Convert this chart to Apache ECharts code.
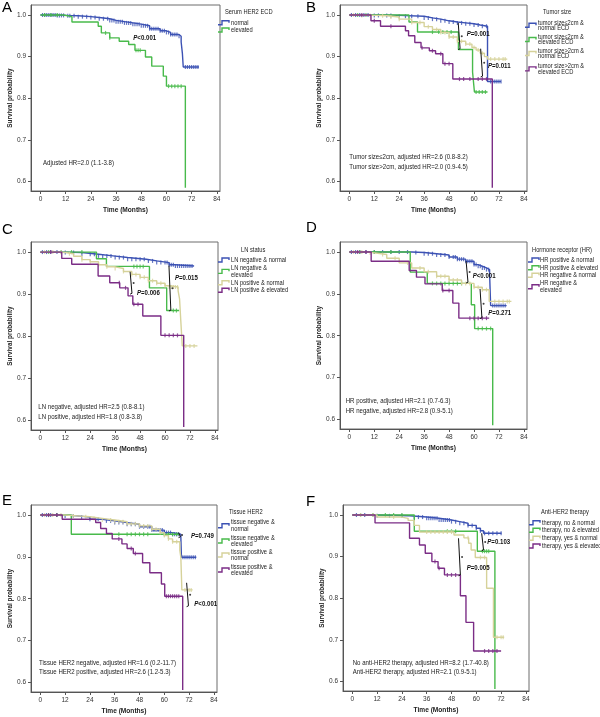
<!DOCTYPE html>
<html>
<head>
<meta charset="utf-8">
<title>Kaplan-Meier curves</title>
<script src="https://cdn.jsdelivr.net/npm/echarts@6/dist/echarts.min.js"></script>
<style>html,body{margin:0;padding:0;background:#fff}</style>
</head>
<body>
<div id="main" style="width:600px;height:717px;"></div>
<script>
// axis ticks
var X_TICKS = [0, 12, 24, 36, 48, 60, 72, 84];
var Y_TICKS = [0.6, 0.7, 0.8, 0.9, 1.0];

// ---- A: serum HER2 ECD
var aNormal = [[0,1],[8,0.999],[12.5,0.998],[18,0.996],[24,0.994],[28,0.991],[33,0.987],[36,0.984],[40,0.981],[44,0.978],[48,0.974],[52,0.967],[57,0.962],[60,0.958],[62,0.953],[66,0.949],[67,0.935],[67.6,0.907],[68,0.875],[75.5,0.875]];
var aElevated = [[0,1],[11,0.996],[15,0.983],[27.5,0.973],[29,0.957],[33,0.945],[37.5,0.937],[42,0.929],[45,0.915],[50,0.899],[53,0.877],[58.5,0.853],[60,0.829],[69,0.585]];
var aNormalCens = [1,2,3,4,5,6,7,8,9,10,11,13,14,16,18,20,22,24,26,28,30,32,33,34,35,36,37,38,39,40,41,42,43,44,45,46,47,48,49,50,51,52,53,54,55,56,57,58,59,60,61,62,63,64,65,66,69,70,71,72,73,74,75];
var aElevatedCens = [2,5,8,31,33,45.5,46.5,47.5,61,62.5,64,65.5,67];

// ---- B: tumor size
var bSmallNormal = [[0,1],[12,0.999],[24,0.997],[36,0.993],[40,0.990],[44,0.986],[48,0.983],[52,0.981],[56,0.979],[60,0.976],[63,0.973],[66.5,0.840],[73,0.840]];
var bSmallElevated = [[0,1],[28.7,0.983],[32.8,0.959],[52.5,0.917],[59.3,0.863],[60.2,0.815],[66.5,0.815]];
var bLargeNormal = [[0,1],[6,0.999],[12,0.998],[18,0.995],[24,0.990],[30,0.982],[36,0.972],[40,0.965],[44,0.958],[48,0.947],[52,0.937],[56,0.930],[59,0.922],[61,0.916],[63,0.908],[65,0.900],[66.5,0.894],[76,0.894]];
var bLargeElevated = [[0,1],[10.4,0.986],[15,0.973],[27,0.962],[28.5,0.950],[31.5,0.934],[34.5,0.921],[38.5,0.914],[41.5,0.907],[45,0.883],[49.8,0.846],[68.8,0.585]];
var bSmallNormalCens = [1,3,5,7,9,12,14,18,20,24,27,30,33,36,38,40,42,44,46,48,50,52,54,56,58,60,62,64,66,68,69,70,71,72,73];
var bSmallElevatedCens = [4,8,40,43,45,47,49,61,62.5,64,65.5];
var bLargeNormalCens = [2,6,10,16,20,24,30,34,38,42,44,46,48,50,52,54,56,58,60,62,64,68,70,72,74,75];
var bLargeElevatedCens = [6,12,20,35,40,44,46,48,53,55,58,62,64,66];

// ---- C: LN status
var cNegNormal = [[0,1],[12,0.999],[20,0.995],[28,0.991],[35,0.987],[42,0.983],[51,0.979],[56,0.975],[62,0.970],[65,0.967],[74,0.967]];
var cNegElevated = [[0,1],[27,0.984],[31.8,0.966],[52.5,0.915],[60.8,0.861],[66.8,0.861]];
var cPosNormal = [[0,1],[8,0.999],[12,0.996],[16,0.990],[20,0.982],[24,0.977],[28,0.970],[32,0.965],[36,0.961],[40,0.954],[44,0.947],[48,0.940],[52,0.932],[56,0.926],[60,0.920],[62,0.917],[66.3,0.908],[67,0.889],[67.6,0.836],[68.3,0.777],[75.6,0.777]];
var cPosElevated = [[0,1],[10.3,0.985],[15.1,0.971],[27.8,0.943],[33.4,0.927],[38.2,0.915],[42.2,0.896],[44.5,0.876],[49.3,0.848],[58,0.802],[69,0.584]];
var cNegNormalCens = [1,3,5,8,12,16,20,24,26,28,30,32,34,36,38,40,42,44,46,48,50,52,54,56,58,60,61,62,63,64,65,66,67,68,69,70,71,72,73];
var cNegElevatedCens = [4,10,15,20,45,46.5,48,49.5,64,65.5];
var cPosNormalCens = [2,6,10,14,20,24,28,32,36,40,44,46,48,50,52,54,56,58,60,62,63,64,65,66,70,72,74];
var cPosElevatedCens = [5,38,41,45,47,60,62,64,66];

// ---- D: hormone receptor
var dPosNormal = [[0,1],[30,0.999],[36,0.996],[42,0.993],[48,0.988],[52,0.983],[56,0.978],[60,0.970],[62,0.966],[64,0.962],[66,0.958],[67.5,0.948],[68,0.872],[75.7,0.872]];
var dPosElevated = [[0,1],[29.3,0.952],[37.5,0.925],[58.7,0.874],[60.3,0.817],[69,0.586]];
var dNegNormal = [[0,1],[8,0.998],[12,0.994],[18,0.985],[24,0.974],[30,0.962],[36,0.953],[42,0.942],[48,0.933],[54,0.925],[60,0.916],[64,0.910],[67.3,0.882],[78,0.882]];
var dNegElevated = [[0,1],[10.5,0.978],[28.8,0.956],[32.3,0.940],[36.4,0.924],[44.7,0.908],[49.8,0.878],[52.7,0.842],[67.3,0.842]];
var dPosNormalCens = [1,3,5,8,12,16,20,24,28,32,36,38,40,42,44,46,48,50,51,52,53,54,55,56,57,58,59,60,61,62,63,64,65,66,67,69,70,71,72,73,74,75];
var dPosElevatedCens = [5,12,20,40,42,44,46,48,50,52,54,62,64,66,68];
var dNegNormalCens = [2,6,10,16,22,28,34,38,42,44,46,48,50,52,54,56,58,60,62,64,66,70,72,74,76,77];
var dNegElevatedCens = [4,8,45,48,58,60,62,64,66];

// ---- E: tissue HER2
var eNegNormal = [[0,1],[12,0.998],[18,0.995],[24,0.990],[30,0.986],[36,0.982],[42,0.978],[48,0.972],[54,0.964],[60,0.958],[64,0.954],[68,0.948],[68.3,0.899],[75.5,0.899]];
var eNegElevated = [[0,1],[15,0.954],[67.3,0.954]];
var ePosNormal = [[0,1],[12,0.998],[18,0.996],[24,0.992],[30,0.988],[36,0.984],[42,0.979],[48,0.974],[54,0.966],[58,0.958],[60,0.951],[62,0.943],[64,0.936],[67.5,0.916],[68,0.899],[68.5,0.821],[73.7,0.821]];
var ePosElevated = [[0,1],[10.6,0.990],[26.8,0.982],[29.2,0.968],[32,0.956],[34.8,0.943],[39.5,0.931],[42,0.920],[45,0.908],[49.5,0.886],[53,0.862],[58.6,0.835],[60.2,0.806],[68.9,0.582]];
var eNegNormalCens = [1,3,5,8,12,16,20,24,28,32,34,36,38,40,42,44,46,48,50,52,53,54,55,56,57,58,59,60,61,62,63,64,65,66,67,69,70,71,72,73,74,75];
var eNegElevatedCens = [4,8,38,42,44,46,48,50,52,60,62,64,66];
var ePosNormalCens = [2,6,10,16,22,26,30,34,36,38,40,42,44,46,48,50,52,54,56,58,60,62,64,66,70,72,73];
var ePosElevatedCens = [4,8,38,44,46,61,62,63,64,65,66,67];

// ---- F: anti-HER2 therapy
var fNoNormal = [[0,1],[12,0.998],[27.7,0.995],[36,0.992],[42,0.988],[48,0.984],[52,0.980],[56,0.975],[60,0.968],[62,0.962],[63.5,0.956],[72.2,0.956]];
var fNoElevated = [[0,1],[30,0.961],[60.5,0.913],[69,0.582]];
var fYesNormal = [[0,1],[12,0.995],[24,0.992],[27,0.987],[30,0.975],[32.5,0.959],[49.2,0.952],[54,0.945],[56.3,0.932],[57.5,0.916],[59.5,0.898],[65,0.824],[68.3,0.706],[73.5,0.706]];
var fYesElevated = [[0,1],[11,0.981],[27.7,0.944],[32.5,0.928],[35.3,0.908],[38.5,0.888],[41.5,0.872],[44.6,0.856],[52.3,0.806],[55,0.742],[58.7,0.673],[72,0.673]];
var fNoNormalCens = [2,6,12,18,24,30,32,34,36,37,38,39,40,41,42,43,44,45,46,47,48,50,52,54,56,58,60,62,64,66,68,70,72];
var fNoElevatedCens = [4,10,16,20,24,46,48,50,63,64,65,66];
var fYesNormalCens = [4,10,20,36,38,40,42,44,46,48,56,62,64,70,72,73];
var fYesElevatedCens = [40,42,46,48,50,64,66,68,70];

// brackets: [x, top, bottom]
var bBrackets = [[53.3,0.981,0.917],[64.1,0.919,0.851]];
var cBrackets = [[62.8,0.968,0.860],[44.1,0.953,0.900]];
var dBrackets = [[57.1,0.978,0.926],[63.8,0.912,0.841]];
var eBrackets = [[67.8,0.958,0.946],[71.7,0.838,0.781]];
var fBrackets = [[63.5,0.956,0.914],[52.3,0.944,0.854]];

var BLUE = '#3c52b4', GREEN = '#48ba4b', BEIGE = '#d6d29a', PURPLE = '#7b2d86';
var COLORS = [BLUE, GREEN, BEIGE, PURPLE];
var FONT = '"Liberation Sans", Arial, sans-serif';
var SQUEEZE = 0.87;  // the original uses a narrow face
var LEGEND_SQUEEZE = 0.82;

var panels = [
  {letter: 'A', lx: 2, ly: 0, grid: [31, 5, 189, 186],
   curves: [[aNormal, aNormalCens], [aElevated, aElevatedCens]], colors: [BLUE, GREEN], brackets: [],
   notes: [[43, 163.3, 'Adjusted HR=2.0 (1.1-3.8)']],
   pvals: [[133.3, 38.3, '<0.001']],
   legend: {title: 'Serum HER2 ECD', tx: 225, ty: 12, ix: 218, textX: 231,
            items: [[[22.7], 'normal'], [[30], 'elevated']]}},
  {letter: 'B', lx: 306, ly: 0, grid: [340, 5, 187, 186],
   curves: [[bSmallNormal, bSmallNormalCens], [bSmallElevated, bSmallElevatedCens], [bLargeNormal, bLargeNormalCens], [bLargeElevated, bLargeElevatedCens]],
   colors: COLORS, brackets: bBrackets,
   notes: [[349.3, 156.7, 'Tumor size\u22642cm, adjusted HR=2.6 (0.8-8.2)'], [349.3, 167.3, 'Tumor size>2cm, adjusted HR=2.0 (0.9-4.5)']],
   pvals: [[466.7, 34, '=0.001'], [488, 65.7, '=0.011']],
   legend: {title: 'Tumor size', tx: 543, ty: 12.3, ix: 525, textX: 538,
            items: [[[22.7, 27.7], 'tumor size\u22642cm &', 'normal ECD'], [[36.7, 42.3], 'tumor size\u22642cm &', 'elevated ECD'],
                    [[51, 56], 'tumor size>2cm &', 'normal ECD'], [[66, 71.7], 'tumor size>2cm &', 'elevated ECD']]}},
  {letter: 'C', lx: 2, ly: 222, grid: [31, 242, 187, 188],
   curves: [[cNegNormal, cNegNormalCens], [cNegElevated, cNegElevatedCens], [cPosNormal, cPosNormalCens], [cPosElevated, cPosElevatedCens]],
   colors: COLORS, brackets: cBrackets,
   notes: [[38.3, 407.3, 'LN negative, adjusted HR=2.5 (0.8-8.1)'], [38.3, 417.3, 'LN positive, adjusted HR=1.8 (0.8-3.8)']],
   pvals: [[175, 278, '=0.015'], [137, 292.7, '=0.006']],
   legend: {title: 'LN status', tx: 241, ty: 250, ix: 218, textX: 231,
            items: [[[260], 'LN negative & normal'], [[267.7, 275], 'LN negative &', 'elevated'],
                    [[282.7], 'LN positive & normal'], [[290.3], 'LN positive & elevated']]}},
  {letter: 'D', lx: 306, ly: 220, grid: [340, 242, 187, 187],
   curves: [[dPosNormal, dPosNormalCens], [dPosElevated, dPosElevatedCens], [dNegNormal, dNegNormalCens], [dNegElevated, dNegElevatedCens]],
   colors: COLORS, brackets: dBrackets,
   notes: [[345.7, 400.7, 'HR positive, adjusted HR=2.1 (0.7-6.3)'], [345.7, 410.7, 'HR negative, adjusted HR=2.8 (0.9-5.1)']],
   pvals: [[472.7, 275.7, '<0.001'], [488.3, 313.3, '=0.271']],
   legend: {title: 'Hormone receptor (HR)', tx: 532, ty: 250, ix: 528, textX: 540,
            items: [[[260], 'HR positive & normal'], [[267.7], 'HR positive & elevated'],
                    [[275.3], 'HR negative & normal'], [[283.3, 290.3], 'HR negative &', 'elevated']]}},
  {letter: 'E', lx: 2, ly: 493, grid: [31, 505, 186, 187],
   curves: [[eNegNormal, eNegNormalCens], [eNegElevated, eNegElevatedCens], [ePosNormal, ePosNormalCens], [ePosElevated, ePosElevatedCens]],
   colors: COLORS, brackets: eBrackets,
   notes: [[39, 663.3, 'Tissue HER2 negative, adjusted HR=1.6 (0.2-11.7)'], [39, 672.3, 'Tissue HER2 positive, adjusted HR=2.6 (1.2-5.3)']],
   pvals: [[191, 535.7, '=0.749'], [194.3, 604, '<0.001']],
   legend: {title: 'Tissue HER2', tx: 229, ty: 512.3, ix: 218, textX: 231,
            items: [[[522.3, 529.3], 'tissue negative &', 'normal'], [[537.7, 544.3], 'tissue negative &', 'elevated'],
                    [[551.7, 558.3], 'tissue positive &', 'normal'], [[566.7, 573.3], 'tissue positive &', 'elevated']]}},
  {letter: 'F', lx: 306, ly: 494, grid: [343, 505, 186, 186],
   curves: [[fNoNormal, fNoNormalCens], [fNoElevated, fNoElevatedCens], [fYesNormal, fYesNormalCens], [fYesElevated, fYesElevatedCens]],
   colors: COLORS, brackets: fBrackets,
   notes: [[352.7, 662.7, 'No anti-HER2 therapy, adjusted HR=8.2 (1.7-40.8)'], [352.7, 671.7, 'Anti-HER2 therapy, adjusted HR=2.1 (0.9-5.1)']],
   pvals: [[487.3, 541.7, '=0.103'], [466.7, 568.3, '=0.005']],
   legend: {title: 'Anti-HER2 therapy', tx: 541, ty: 512.3, ix: 529, textX: 542,
            items: [[[522.7], 'therapy, no & normal'], [[530.3], 'therapy, no & elevated'],
                    [[538.3], 'therapy, yes & normal'], [[546], 'therapy, yes & elevated']]}}
];

// survival value at time t from a step curve
function valueAt(curve, t) {
  var s = curve[0][1];
  for (var i = 0; i < curve.length; i++) {
    if (curve[i][0] <= t) s = curve[i][1]; else break;
  }
  return s;
}

function txt(x, y, text, size, opts) {
  opts = opts || {};
  return {
    type: 'text', z: 100, silent: true,
    x: x, y: y, scaleX: opts.scale || SQUEEZE, scaleY: 1,
    style: {
      x: 0, y: 0, text: text,
      font: (opts.weight || 'normal') + ' ' + size + 'px ' + FONT,
      fill: opts.color || '#222',
      textAlign: 'left', align: 'left',
      textVerticalAlign: opts.valign || 'middle', verticalAlign: opts.valign || 'middle'
    }
  };
}

var grids = [], xAxes = [], yAxes = [], series = [], graphics = [];

panels.forEach(function (p, i) {
  grids.push({left: p.grid[0], top: p.grid[1], width: p.grid[2], height: p.grid[3],
              show: true, borderColor: '#6d6d6d', borderWidth: 1, backgroundColor: '#fff'});
  xAxes.push({
    gridIndex: i, type: 'value', min: -4.5, max: 85.5,
    name: 'Time (Months)', nameLocation: 'middle', nameGap: 16,
    nameTextStyle: {fontWeight: 'bold', fontSize: 6.6, fontFamily: FONT, color: '#222'},
    axisLine: {show: true, onZero: false, lineStyle: {color: '#555', width: 1}},
    axisTick: {show: true, length: 3, customValues: X_TICKS, lineStyle: {color: '#555'}},
    axisLabel: {customValues: X_TICKS, fontSize: 6.5, fontFamily: FONT, color: '#333', margin: 5},
    splitLine: {show: false}
  });
  yAxes.push({
    gridIndex: i, type: 'value', min: 0.577, max: 1.024,
    name: 'Survival probability', nameLocation: 'middle', nameGap: 15, nameRotate: 90,
    nameTextStyle: {fontWeight: 'bold', fontSize: 6.4, fontFamily: FONT, color: '#222'},
    axisLine: {show: true, onZero: false, lineStyle: {color: '#555', width: 1}},
    axisTick: {show: true, length: 3, customValues: Y_TICKS, lineStyle: {color: '#555'}},
    axisLabel: {customValues: Y_TICKS, fontSize: 6.5, fontFamily: FONT, color: '#333', margin: 5,
                formatter: function (v) { return v.toFixed(1); }},
    splitLine: {show: false}
  });

  p.curves.forEach(function (c, k) {
    var col = p.colors[k];
    series.push({
      type: 'line', xAxisIndex: i, yAxisIndex: i, step: 'end', data: c[0],
      showSymbol: false, symbol: 'none', silent: true, z: 2 + k,
      lineStyle: {color: col, width: 1.4}
    });
    series.push({
      type: 'scatter', xAxisIndex: i, yAxisIndex: i, silent: true, z: 2 + k,
      data: c[1].map(function (t) { return [t, valueAt(c[0], t)]; }),
      symbol: 'rect', symbolSize: [1.2, 4],
      itemStyle: {color: col}
    });
  });

  p.brackets.forEach(function (b) {
    var x = b[0], top = b[1], bot = b[2], mid = (top + bot) / 2;
    series.push({
      type: 'line', xAxisIndex: i, yAxisIndex: i, silent: true, z: 10,
      data: [[x - 0.9, top], [x, top - 0.002], [x, bot + 0.002], [x - 0.9, bot]],
      showSymbol: false, symbol: 'none', lineStyle: {color: '#111', width: 1}
    });
    series.push({
      type: 'scatter', xAxisIndex: i, yAxisIndex: i, silent: true, z: 10,
      data: [[x + 0.8, mid]], symbol: 'circle', symbolSize: 2, itemStyle: {color: '#111'}
    });
  });

  graphics.push(txt(p.lx, p.ly, p.letter, 15, {valign: 'top', scale: 1, color: '#000'}));
  p.notes.forEach(function (n) { graphics.push(txt(n[0], n[1], n[2], 7)); });
  p.pvals.forEach(function (v) {
    graphics.push({
      type: 'text', z: 100, silent: true,
      x: v[0], y: v[1], scaleX: SQUEEZE,
      style: {
        x: 0, y: 0, text: '{i|P}{b|' + v[2] + '}',
        textVerticalAlign: 'middle', verticalAlign: 'middle',
        rich: {
          i: {fontStyle: 'italic', fontWeight: 'bold', fontSize: 7, fontFamily: FONT, fill: '#111', color: '#111'},
          b: {fontWeight: 'bold', fontSize: 7, fontFamily: FONT, fill: '#111', color: '#111'}
        }
      }
    });
  });

  var lg = p.legend;
  graphics.push(txt(lg.tx, lg.ty, lg.title, 7, {scale: LEGEND_SQUEEZE}));
  lg.items.forEach(function (it, k) {
    var ys = it[0];
    var cy = ys.reduce(function (a, b) { return a + b; }, 0) / ys.length;
    graphics.push({
      type: 'polyline', z: 100, silent: true,
      shape: {points: [[lg.ix, cy + 2], [lg.ix + 4, cy + 2], [lg.ix + 4, cy - 2], [lg.ix + 11, cy - 2], [lg.ix + 11, cy]]},
      style: {stroke: p.colors[k], lineWidth: 1.4, fill: null}
    });
    for (var j = 0; j < ys.length; j++) {
      graphics.push(txt(lg.textX, ys[j], it[1 + j], 7, {scale: LEGEND_SQUEEZE}));
    }
  });
});

var chart = echarts.init(document.getElementById('main'), null, {renderer: 'canvas'});
chart.setOption({
  animation: false,
  backgroundColor: '#fff',
  grid: grids,
  xAxis: xAxes,
  yAxis: yAxes,
  series: series,
  graphic: graphics
});
</script>
</body>
</html>
